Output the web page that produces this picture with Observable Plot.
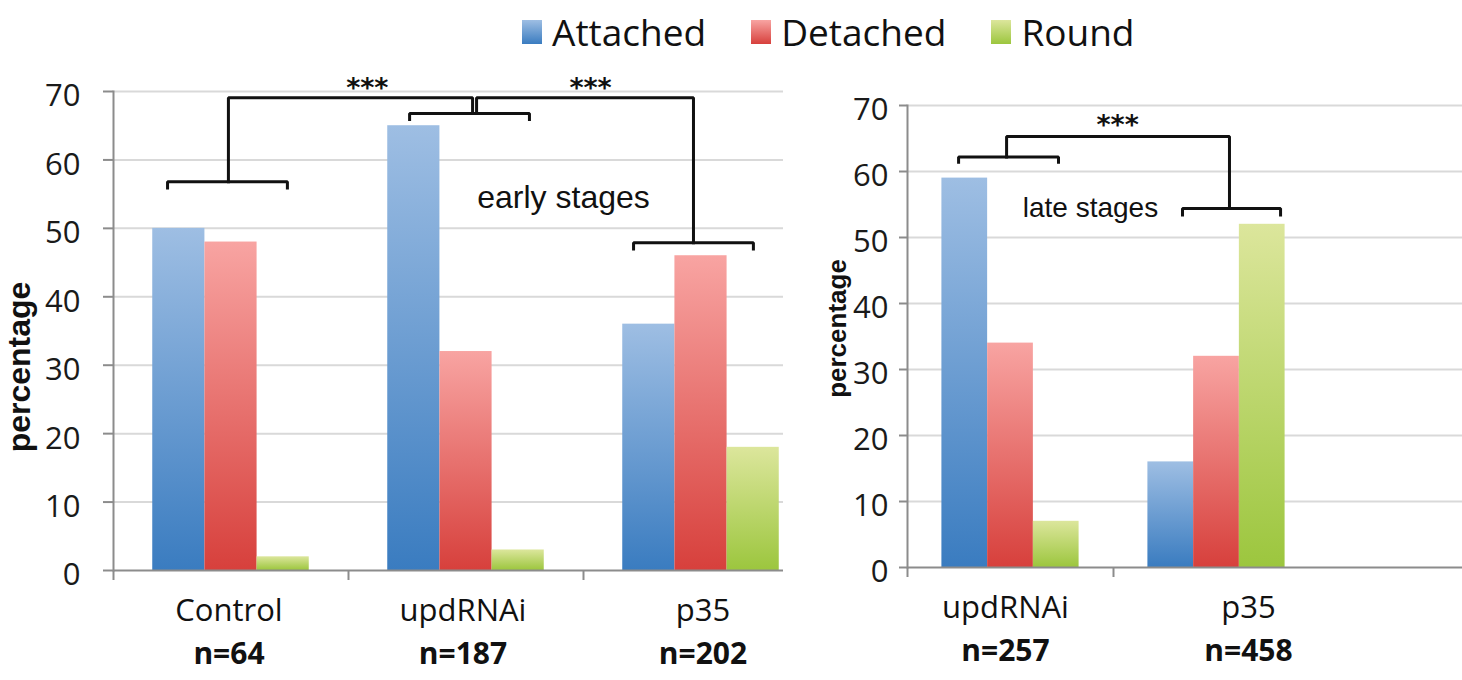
<!DOCTYPE html>
<html><head><meta charset="utf-8">
<script src="https://cdn.jsdelivr.net/npm/d3@7"></script>
<script src="https://cdn.jsdelivr.net/npm/@observablehq/plot@0.6"></script>
<style>
body{margin:0;background:#fff;}
#wrap{position:relative;width:1462px;height:680px;overflow:hidden;background:#fff;}
#legend{position:absolute;top:10px;left:522px;display:flex;align-items:center;font-family:"Open Sans";font-size:37px;line-height:44px;color:#111;white-space:nowrap;}
.item{display:flex;align-items:center;margin-right:45px;}
.sw{width:20px;height:24px;margin-right:10px;}
#left{position:absolute;left:0;top:0;}
#right{position:absolute;left:820px;top:0;}
</style></head>
<body><div id="wrap"><div id="legend"></div><div id="left"></div><div id="right"></div></div>
<script>
// ---- data ----
const series = ["Attached", "Detached", "Round"];
const yTicks = [0, 10, 20, 30, 40, 50, 60, 70];

const earlyGroups = ["Control", "updRNAi", "p35"];
const earlyN = ["n=64", "n=187", "n=202"];
const earlyAttached = [50, 65, 36];
const earlyDetached = [48, 32, 46];
const earlyRound = [2, 3, 18];

const lateGroups = ["updRNAi", "p35"];
const lateN = ["n=257", "n=458"];
const lateAttached = [59, 16];
const lateDetached = [34, 32];
const lateRound = [7, 52];

// significance brackets (x = group index units, y = percentage)
const earlyBrackets = [
  {id: "ctrl", pts: [[-0.27, 55.9], [-0.27, 56.8], [0.24, 56.8], [0.24, 55.9]]},
  {id: "ctrlLink", pts: [[-0.011, 56.8], [-0.011, 69.1], [1.028, 69.1], [1.028, 66.8]]},
  {id: "upd", pts: [[0.76, 65.9], [0.76, 66.8], [1.27, 66.8], [1.27, 65.9]]},
  {id: "p35Link", pts: [[1.045, 66.8], [1.045, 69.1], [1.968, 69.1], [1.968, 47.9]]},
  {id: "p35", pts: [[1.713, 47.0], [1.713, 47.9], [2.223, 47.9], [2.223, 47.0]]}
];
const earlyStars = [{x: 0.58, y: 70.4, t: "***"}, {x: 1.53, y: 70.4, t: "***"}];
const earlyNote = [{x: 1.415, y: 54.4, t: "early stages"}];

const lateBrackets = [
  {id: "upd", pts: [[-0.252, 61.4], [-0.252, 62.2], [0.233, 62.2], [0.233, 61.4]]},
  {id: "link", pts: [[-0.019, 62.2], [-0.019, 65.3], [1.063, 65.3], [1.063, 54.4]]},
  {id: "p35", pts: [[0.835, 53.4], [0.835, 54.4], [1.311, 54.4], [1.311, 53.4]]}
];
const lateStars = [{x: 0.52, y: 67.0, t: "***"}];
const lateNote = [{x: 0.388, y: 54.4, t: "late stages"}];

// ---- styles ----
const gradStops = {
  Attached: ["#9ebee3", "#3a7cc0"],
  Detached: ["#f8a4a2", "#d7403c"],
  Round: ["#dce69c", "#9cc63e"]
};
const axisColor = "#8c8c8c";

// legend
const legend = document.getElementById("legend");
series.forEach(s => {
  const it = document.createElement("div"); it.className = "item";
  const sw = document.createElement("div"); sw.className = "sw";
  sw.style.background = `linear-gradient(to bottom, ${gradStops[s][0]}, ${gradStops[s][1]})`;
  const tx = document.createElement("span"); tx.textContent = s;
  it.appendChild(sw); it.appendChild(tx); legend.appendChild(it);
});

function defsMark(prefix) {
  return () => {
    const ns = "http://www.w3.org/2000/svg";
    const defs = document.createElementNS(ns, "defs");
    series.forEach((s, si) => {
      const g = document.createElementNS(ns, "linearGradient");
      g.setAttribute("id", prefix + si);
      g.setAttribute("x1", "0"); g.setAttribute("y1", "0");
      g.setAttribute("x2", "0"); g.setAttribute("y2", "1");
      [[0, gradStops[s][0]], [1, gradStops[s][1]]].forEach(([o, c]) => {
        const st = document.createElementNS(ns, "stop");
        st.setAttribute("offset", o); st.setAttribute("stop-color", c);
        g.appendChild(st);
      });
      defs.appendChild(g);
    });
    return defs;
  };
}

function panel(o) {
  const values = [o.attached, o.detached, o.round];
  const data = [];
  o.groups.forEach((g, gi) => series.forEach((s, si) => data.push({g, gi, s, si, v: values[si][gi]})));
  const BAR = 0.222;
  const lines = [];
  o.brackets.forEach(b => b.pts.forEach(([x, y]) => lines.push({id: b.id, x, y})));
  const catLabels = o.groups.map((g, i) => Plot.text([g], {x: () => i, frameAnchor: "bottom", dy: 50,
    dx: o.labelShift[i], fontFamily: "Open Sans", fontSize: 31, fill: "#111"}));
  const nLabels = o.nLabels.map((n, i) => Plot.text([n], {x: () => i, frameAnchor: "bottom", dy: 93,
    dx: o.labelShift[i], fontFamily: "Open Sans", fontWeight: "bold", fontSize: 30, fill: "#111"}));
  return Plot.plot({
    width: o.width, height: 680,
    marginLeft: o.marginLeft, marginRight: o.marginRight,
    marginTop: o.marginTop, marginBottom: o.marginBottom,
    style: {background: "transparent", overflow: "visible"},
    x: {type: "linear", domain: [-0.5, o.groups.length - 0.5], range: o.xRange, axis: null},
    y: {domain: [0, 70], axis: null},
    marks: [
      defsMark(o.prefix),
      Plot.gridY(yTicks.slice(1), {stroke: "#d9d9d9", strokeOpacity: 1, strokeWidth: 2}),
      ...series.map((s, si) => Plot.rectY(data.filter(d => d.si === si), {
        x1: d => d.gi + (si - 1.5) * BAR,
        x2: d => d.gi + (si - 0.5) * BAR,
        y1: 0, y2: "v",
        fill: `url(#${o.prefix}${si})`
      })),
      Plot.ruleY([0], {stroke: axisColor, strokeWidth: 2}),
      Plot.frame({anchor: "left", stroke: axisColor, strokeWidth: 2}),
      Plot.axisY(yTicks, {tickSize: o.tickSize, tickFormat: () => "", stroke: axisColor, strokeWidth: 2, label: null}),
      Plot.text(yTicks, {y: d => d, frameAnchor: "left", dx: -(o.tickSize + o.tickPadding), dy: 5,
        textAnchor: "end", fontFamily: "Open Sans", fontSize: o.fontSize, fill: "#1a1a1a"}),
      Plot.axisX(o.xTicks, {tickSize: 10, tickFormat: () => "", stroke: axisColor, strokeWidth: 2, label: null}),
      ...catLabels,
      ...nLabels,
      Plot.text(["percentage"], {frameAnchor: "left", textAnchor: "middle", rotate: -90, dx: o.labelDx, dy: o.labelDy,
        fontFamily: "Liberation Sans", fontWeight: "bold", fontSize: o.labelSize, fill: "#111"}),
      Plot.line(lines, {x: "x", y: "y", z: "id", stroke: "#111", strokeWidth: 3,
        strokeLinejoin: "miter", strokeLinecap: "square", curve: "linear"}),
      Plot.text(o.stars, {x: "x", y: "y", text: "t", fontFamily: "DejaVu Sans", fontWeight: "bold",
        fontSize: 27, fill: "#111"}),
      Plot.text(o.note, {x: "x", y: "y", text: "t", fontFamily: "Liberation Sans",
        fontSize: o.noteSize, fill: "#111"})
    ]
  });
}

document.getElementById("left").appendChild(panel({
  groups: earlyGroups, nLabels: earlyN,
  attached: earlyAttached, detached: earlyDetached, round: earlyRound,
  brackets: earlyBrackets, stars: earlyStars, note: earlyNote, noteSize: 32,
  width: 800, marginLeft: 113, marginRight: 17, marginTop: 91, marginBottom: 110,
  xRange: [113, 818], xTicks: [-0.5, 0.5, 1.5], labelShift: [-2, -3, 2],
  tickSize: 10, tickPadding: 23, fontSize: 31,
  labelDx: -94, labelDy: 36, labelSize: 32, prefix: "gE"
}));

document.getElementById("right").appendChild(panel({
  groups: lateGroups, nLabels: lateN,
  attached: lateAttached, detached: lateDetached, round: lateRound,
  brackets: lateBrackets, stars: lateStars, note: lateNote, noteSize: 28,
  width: 642, marginLeft: 87, marginRight: 0, marginTop: 105, marginBottom: 113,
  xRange: [87, 499], xTicks: [-0.5, 0.5], labelShift: [-5, 32],
  tickSize: 8, tickPadding: 11, fontSize: 31,
  labelDx: -70, labelDy: -8, labelSize: 26, prefix: "gL"
}));
</script>
</body></html>
